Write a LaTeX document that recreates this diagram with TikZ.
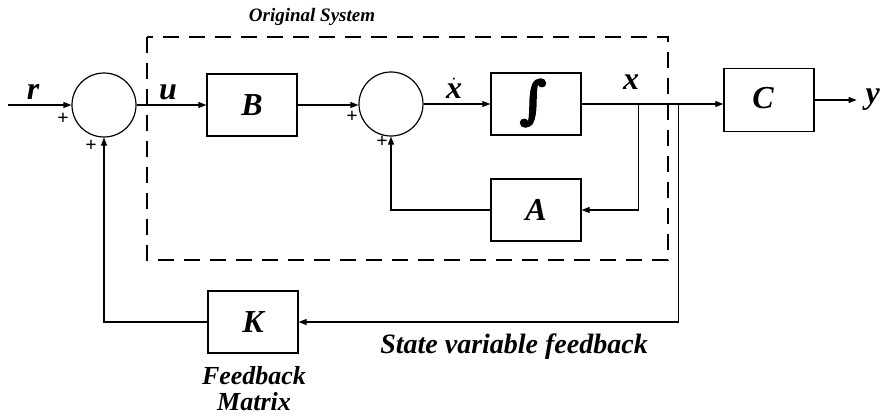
\documentclass[tikz,border=0pt]{standalone}
\usepackage{fontspec}
\setmainfont{Liberation Serif}
\newfontfamily\intfont[FakeBold=5]{DejaVu Serif}
\usetikzlibrary{arrows.meta,calc}
\begin{document}
\begin{tikzpicture}[x=1pt,y=-1pt,
  line width=1.2pt,
  blk/.style={draw,rectangle,minimum width=90pt,minimum height=62pt,inner sep=0pt,
     font=\fontsize{32}{34}\selectfont\bfseries\itshape},
  sumj/.style={draw,circle,minimum size=64pt,inner sep=0pt},
  sig/.style={font=\fontsize{32}{34}\selectfont\bfseries\itshape,inner sep=0pt},
  txt/.style={font=\fontsize{28}{30}\selectfont\bfseries\itshape,inner sep=0pt,align=center},
  fmtxt/.style={font=\fontsize{26}{28}\selectfont\bfseries\itshape,inner sep=0pt,anchor=base,text depth=0pt},
  pl/.style={font=\fontsize{20}{20}\selectfont\bfseries,inner sep=0pt},
  arr/.style={-{Triangle[length=8pt,width=6pt]}},
  dashbox/.style={draw,dash pattern=on 16pt off 10pt,line width=1.2pt}]
\useasboundingbox (0,0) rectangle (886,420);

% dashed system box
\draw[dashbox] (147,37) rectangle (668,260);
\node[txt,font=\fontsize{19}{21}\selectfont\bfseries\itshape] (orig) at (312,17) {Original System};

% blocks
\node[sumj] (s1) at (104,105) {};
\node[blk] (B) at (252,105) {B};
\node[sumj] (s2) at (391,104) {};
\node[blk] (I) at (536,104) {};
\node[inner sep=0pt,font=\intfont\fontsize{50}{50}\selectfont] (Isym) at (533,103) {∫};
\node[blk] (A) at (536,210) {A};
\node[blk,minimum height=63pt] (C) at (769,100) {};
\node[sig] (Clab) at (763,98) {C};
\node[blk] (K) at (253,322) {K};

% coordinates
\coordinate (rin) at (8,105);
\coordinate (b1) at ($(I.east)+(57,0)$);
\coordinate (b2) at ($(I.east)+(97,0)$);
\coordinate (yout) at ($(C.east)+(42,0)$);

% connectors
\draw[arr] (rin) -- (s1.west);
\draw[arr] (s1.east) -- (B.west);
\draw[arr] (B.east) -- (s2.west |- B.east);
\draw[arr] (s2.east) -- (I.west);
\draw[arr] (I.east) -- (I.east -| C.west);
\draw[arr] (b1) |- (A.east);
\draw[arr] (A.west) -| (s2.south);
\draw[arr] (b2) |- (K.east);
\draw[arr] (K.west) -| (s1.south);
\draw[arr] (C.east) -- (yout);

% signal labels
\node[sig] (lr) at (33,92) {r};
\node[sig] (lu) at (168,92) {u};
\node[sig] (lxd) at (454,88) {$\dot{\mbox{\bfseries\itshape x}}$};
\node[sig] (lx) at (631,82) {x};
\node[sig,anchor=west] (ly) at (865,100) {y};

% plus signs
\node[pl] (p1) at (63,119) {+};
\node[pl] (p2) at (91,146) {+};
\node[pl] (p3) at (352,117) {+};
\node[pl] (p4) at (382,142) {+};

% annotations
\node[txt] (svf) at (514,347) {State variable feedback};
\node[fmtxt] (fm1) at (254,384) {Feedback};
\node[fmtxt] (fm2) at (254,410) {Matrix};
\end{tikzpicture}
\end{document}
